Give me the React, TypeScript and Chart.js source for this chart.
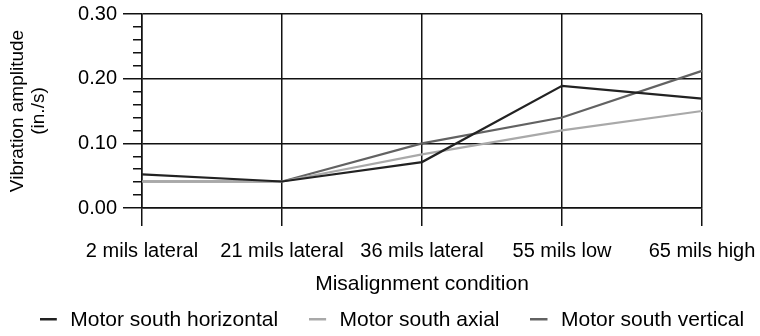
import React, { useEffect, useRef } from "react";
import { Chart, registerables } from "chart.js";

Chart.register(...registerables);

const categories = ["2 mils lateral", "21 mils lateral", "36 mils lateral", "55 mils low", "65 mils high"];
const motorSouthHorizontal = [0.052, 0.041, 0.071, 0.189, 0.169];
const motorSouthAxial = [0.041, 0.041, 0.083, 0.12, 0.15];
const motorSouthVertical = [0.041, 0.041, 0.1, 0.14, 0.212];
const seriesLabels = ["Motor south horizontal", "Motor south axial", "Motor south vertical"];
const seriesColors = ["#222222", "#a9a9a9", "#626262"];
const yAxisTitle = ["Vibration amplitude", "(in./s)"];
const xAxisTitle = "Misalignment condition";
const yMin = 0;
const yMax = 0.3;
const yMajorStep = 0.1;
const yMinorStep = 0.02;

const GRID = "#111111";

function makeMarker(color: string) {
  const c = document.createElement("canvas");
  c.width = 20;
  c.height = 6;
  const g = c.getContext("2d");
  if (g) {
    g.fillStyle = color;
    g.fillRect(0, 0, 17, 3);
  }
  return c;
}

const minorTickPlugin = {
  id: "minorTicks",
  afterDraw(chart: any) {
    const scale = chart.scales.y;
    const ctx = chart.ctx;
    const x = chart.chartArea.left;
    const n = Math.round((scale.max - scale.min) / yMinorStep);
    const ratio = Math.round(yMajorStep / yMinorStep);
    ctx.save();
    ctx.strokeStyle = GRID;
    ctx.lineWidth = 1.5;
    for (let i = 1; i < n; i++) {
      if (i % ratio === 0) continue;
      const raw = scale.getPixelForValue(scale.min + i * yMinorStep);
      const py = Math.round(raw - 0.75) + 0.75;
      ctx.beginPath();
      ctx.moveTo(x - 9, py);
      ctx.lineTo(x, py);
      ctx.stroke();
    }
    ctx.restore();
  },
};

export default function App() {
  const ref = useRef<HTMLCanvasElement | null>(null);

  useEffect(() => {
    if (!ref.current) return;
    Chart.defaults.font.family = "'Liberation Sans', Arial, Helvetica, sans-serif";
    Chart.defaults.color = "#000";
    const markers = seriesColors.map((c) => makeMarker(c));
    const seriesData = [motorSouthHorizontal, motorSouthAxial, motorSouthVertical];

    const chart = new Chart(ref.current, {
      type: "line",
      data: {
        labels: categories,
        datasets: seriesData.map((d, i) => ({
          label: seriesLabels[i],
          data: d,
          borderColor: seriesColors[i],
          backgroundColor: seriesColors[i],
          borderWidth: 2.2,
          pointRadius: 0,
          pointHoverRadius: 0,
          tension: 0,
          fill: false,
        })),
      },
      options: {
        responsive: false,
        animation: false,
        events: [],
        layout: { padding: { left: 5, right: -19, top: 14, bottom: -5 } },
        plugins: {
          tooltip: { enabled: false },
          legend: {
            position: "bottom",
            labels: {
              color: "#000",
              font: { size: 21 },
              usePointStyle: true,
              pointStyleWidth: 20,
              padding: 31,
              generateLabels: (ch: any) => {
                const items = (Chart.defaults.plugins.legend.labels as any).generateLabels(ch);
                return items.map((it: any, i: number) => ({ ...it, pointStyle: markers[i], lineWidth: 0 }));
              },
            },
          },
        },
        scales: {
          x: {
            type: "category",
            offset: false,
            grid: { color: GRID, lineWidth: 1.5, tickLength: 18, tickColor: GRID, drawTicks: true },
            border: { color: GRID, width: 1.5 },
            ticks: {
              color: "#000",
              font: { size: 20 },
              padding: 13,
              maxRotation: 0,
              minRotation: 0,
              autoSkip: false,
            },
            title: {
              display: true,
              text: xAxisTitle,
              color: "#000",
              font: { size: 21 },
              padding: { top: 0, bottom: -18 },
            },
            afterFit: (scale: any) => {
              scale.height = 71;
              scale.paddingLeft = 0;
              scale.paddingRight = 58;
            },
          },
          y: {
            min: yMin,
            max: yMax,
            grid: { color: GRID, lineWidth: 1.5, tickLength: 19, tickColor: GRID, drawTicks: true },
            border: { color: GRID, width: 1.5 },
            ticks: {
              stepSize: yMajorStep,
              padding: 6,
              color: "#000",
              font: { size: 20 },
              callback: (v: any) => Number(v).toFixed(2),
            },
            title: {
              display: true,
              text: yAxisTitle,
              color: "#000",
              font: { size: 19, lineHeight: "21px" },
              padding: { top: 2, bottom: 0 },
            },
            afterFit: (scale: any) => {
              scale.width = 137;
              scale.paddingTop = 0;
              scale.paddingBottom = 0;
            },
          },
        },
      },
      plugins: [minorTickPlugin],
    } as any);

    return () => chart.destroy();
  }, []);

  return (
    <div style={{ position: "absolute", left: 0, top: 0, width: 760, height: 336, background: "#fff" }}>
      <canvas ref={ref} width={760} height={336} style={{ display: "block" }} />
    </div>
  );
}
